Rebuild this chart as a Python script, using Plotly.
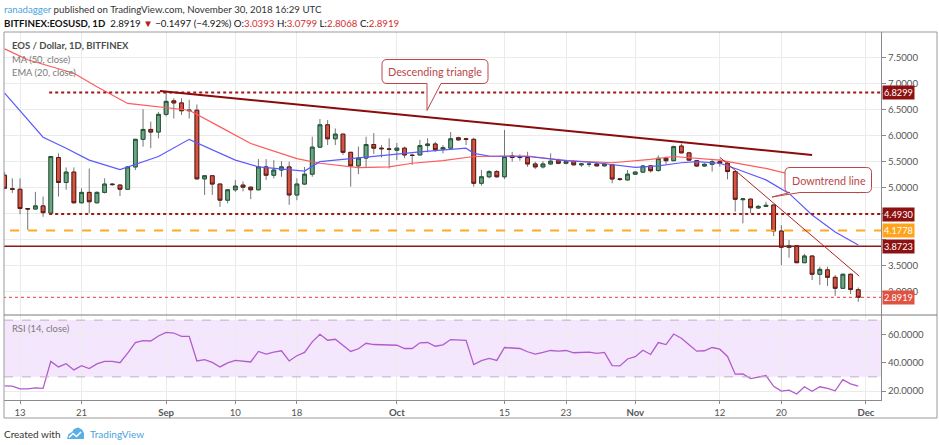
import pandas as pd
import plotly.graph_objects as go

# daily candles, 2018-08-11 .. 2018-11-30
dates = pd.date_range("2018-08-11", "2018-11-30", freq="D")

opens = [
    5.24, 4.98, 4.97, 4.60, 4.59, 4.65, 4.51, 5.58, 5.10, 5.30, 4.71, 4.91, 4.71, 4.91, 5.07, 5.05, 4.97, 5.40, 5.93, 6.12, 6.07,
    6.41, 6.67, 6.63, 6.48, 6.49, 5.17, 5.23, 5.07, 4.76, 4.96, 5.05, 5.01, 4.96, 5.40, 5.24, 5.34, 5.40, 4.86, 5.07, 5.26,
    5.78, 6.21, 5.94, 6.03, 5.68, 5.42, 5.57, 5.83, 5.76, 5.745,
    5.72, 5.76, 5.625, 5.63, 5.81, 5.84, 5.74, 5.76, 5.96, 5.94, 5.93, 5.085, 5.21, 5.31, 5.21, 5.61, 5.60, 5.58, 5.456, 5.40,
    5.456, 5.52, 5.47, 5.50, 5.44, 5.45, 5.456, 5.42, 5.44, 5.17, 5.15,
    5.26, 5.30, 5.42, 5.33, 5.565, 5.52, 5.80, 5.67, 5.52, 5.417, 5.45, 5.50, 5.47, 5.31, 4.77, 4.78, 4.61, 4.64, 4.667, 4.167,
    3.85, 3.885, 3.558, 3.686, 3.335, 3.42, 3.277, 3.065, 3.335, 3.0393,
]
highs = [
    5.30, 5.18, 5.18, 4.61, 4.92, 4.83, 5.61, 5.66, 5.39, 5.39, 4.99, 5.37, 4.93, 5.18, 5.08, 5.07, 5.41, 5.94, 6.51, 6.27, 6.46,
    6.85, 6.72, 6.72, 6.69, 6.60, 5.24, 5.24, 5.08, 4.97, 5.15, 5.12, 5.02, 5.55, 5.55, 5.53, 5.51, 5.50, 5.18, 5.40, 5.98,
    6.32, 6.30, 6.14, 6.03, 5.69, 5.79, 5.98, 6.05, 5.82, 5.95,
    5.86, 5.79, 5.65, 5.92, 5.95, 5.88, 5.82, 6.07, 5.98, 5.96, 5.96, 5.34, 5.34, 5.34, 6.11, 5.69, 5.64, 5.69, 5.50, 5.51,
    5.66, 5.56, 5.54, 5.53, 5.456, 5.50, 5.47, 5.47, 5.456, 5.18, 5.34,
    5.32, 5.44, 5.43, 5.62, 5.60, 5.81, 5.85, 5.69, 5.53, 5.47, 5.546, 5.55, 5.50, 5.31, 4.79, 4.79, 4.67, 4.73, 4.67, 4.28,
    3.995, 3.89, 3.73, 3.70, 3.48, 3.48, 3.32, 3.35, 3.35, 3.0799,
]
lows = [
    4.97, 4.90, 4.49, 4.19, 4.58, 4.44, 4.50, 4.83, 4.96, 4.70, 4.70, 4.51, 4.70, 4.89, 5.04, 4.84, 4.96, 5.34, 5.79, 5.76, 5.95,
    6.37, 6.33, 6.40, 6.33, 5.17, 4.86, 4.86, 4.63, 4.70, 4.92, 4.93, 4.78, 4.95, 5.15, 5.18, 5.21, 4.67, 4.76, 5.05, 5.21,
    5.77, 5.82, 5.82, 5.63, 5.02, 5.26, 5.39, 5.65, 5.58, 5.37,
    5.53, 5.57, 5.44, 5.63, 5.68, 5.69, 5.66, 5.76, 5.90, 5.82, 5.02, 5.04, 5.18, 5.19, 5.165, 5.50, 5.52, 5.40, 5.36, 5.37,
    5.44, 5.45, 5.45, 5.43, 5.40, 5.40, 5.41, 5.41, 5.085, 5.13, 5.14,
    5.25, 5.29, 5.29, 5.31, 5.456, 5.52, 5.66, 5.52, 5.405, 5.40, 5.31, 5.405, 5.16, 4.54, 4.315, 4.51, 4.59, 4.63, 4.07, 3.51,
    3.654, 3.55, 3.55, 3.225, 3.13, 3.11, 2.92, 3.06, 2.955, 2.8068,
]
closes = [
    4.99, 4.97, 4.60, 4.59, 4.65, 4.52, 5.60, 5.10, 5.30, 4.71, 4.91, 4.73, 4.91, 5.07, 5.06, 4.97, 5.40, 5.93, 6.12, 6.07, 6.41,
    6.66, 6.63, 6.48, 6.49, 5.17, 5.23, 5.07, 4.76, 4.96, 5.03, 5.01, 4.96, 5.40, 5.24, 5.34, 5.40, 4.86, 5.07, 5.26, 5.78,
    6.21, 5.94, 6.03, 5.68, 5.42, 5.57, 5.83, 5.76, 5.75, 5.74,
    5.76, 5.63, 5.62, 5.81, 5.84, 5.73, 5.77, 5.94, 5.92, 5.93, 5.085, 5.21, 5.31, 5.21, 5.60, 5.58, 5.58, 5.456, 5.40, 5.456,
    5.51, 5.47, 5.50, 5.44, 5.456, 5.452, 5.42, 5.45, 5.167, 5.16, 5.26,
    5.30, 5.417, 5.327, 5.565, 5.52, 5.79, 5.67, 5.53, 5.417, 5.45, 5.50, 5.47, 5.31, 4.777, 4.785, 4.615, 4.64, 4.66, 4.167, 3.854,
    3.885, 3.558, 3.686, 3.335, 3.43, 3.277, 3.065, 3.335, 3.0416, 2.8919,
]

# MA (50) and EMA (20)
ma_dates = ["2018-08-11", "2018-08-14", "2018-08-20", "2018-08-23", "2018-08-27", "2018-09-01", "2018-09-04",
            "2018-09-08", "2018-09-12", "2018-09-18", "2018-09-21", "2018-09-26", "2018-09-30", "2018-10-03",
            "2018-10-07", "2018-10-11", "2018-10-18", "2018-10-23", "2018-10-29", "2018-11-03", "2018-11-06",
            "2018-11-12", "2018-11-18", "2018-11-25", "2018-11-30"]
ma_vals = [7.67, 7.46, 7.20, 6.94, 6.62, 6.53, 6.49, 6.17, 5.85, 5.56, 5.47, 5.385, 5.40, 5.47,
           5.52, 5.60, 5.61, 5.52, 5.48, 5.545, 5.60, 5.53, 5.37, 5.12, 4.90]

ema_dates = ["2018-08-11", "2018-08-16", "2018-08-19", "2018-08-22", "2018-08-26", "2018-08-27", "2018-08-31",
             "2018-09-04", "2018-09-08", "2018-09-10", "2018-09-13", "2018-09-19", "2018-09-21", "2018-09-26",
             "2018-09-30", "2018-10-04", "2018-10-10", "2018-10-11", "2018-10-13", "2018-10-18", "2018-10-23",
             "2018-10-27", "2018-11-01", "2018-11-04", "2018-11-07", "2018-11-09", "2018-11-12", "2018-11-14",
             "2018-11-18", "2018-11-21", "2018-11-24", "2018-11-27", "2018-11-30"]
ema_vals = [6.82, 5.97, 5.76, 5.53, 5.35, 5.40, 5.60, 5.93, 5.66, 5.53, 5.40, 5.32, 5.50, 5.58,
            5.63, 5.69, 5.76, 5.66, 5.61, 5.60, 5.52, 5.48, 5.39, 5.42, 5.48, 5.50, 5.47, 5.37,
            5.15, 4.89, 4.475, 4.15, 3.90]

rsi_vals = [
    23.7, 23.5, 21.6, 21.6, 22.3, 21.9, 40.9, 37.0, 39.3, 34.9, 37.9, 35.8, 39.1, 40.9, 40.9, 40.0, 46.7, 54.2, 55.6, 55.3, 58.8,
    61.4, 60.9, 58.6, 58.6, 41.2, 42.1, 40.2, 37.0, 39.8, 41.6, 41.2, 40.5, 47.9, 46.0, 47.4, 48.4, 41.2, 44.9, 47.2, 54.7,
    60.0, 55.8, 56.5, 52.1, 47.9, 49.8, 53.7, 52.8, 52.8, 52.6,
    52.3, 50.0, 50.0, 54.0, 54.2, 51.6, 52.6, 56.3, 56.0, 55.8, 38.6, 41.4, 43.0, 41.6, 50.7, 50.2, 50.0, 47.7, 46.0, 47.2,
    48.6, 48.1, 48.6, 47.0, 47.0, 47.4, 46.5, 47.2, 37.9, 37.7, 42.6,
    44.2, 48.8, 45.8, 54.2, 52.8, 60.2, 57.2, 52.6, 48.1, 48.4, 50.7, 49.5, 44.4, 31.9, 32.1, 28.8, 30.0, 30.9, 23.3, 20.0,
    20.7, 17.9, 23.0, 19.8, 23.0, 21.9, 20.2, 28.1, 25.1, 23.5,
]

# horizontal levels: (price, start date, colour, dash, width)
levels = [
    (6.8299, "2018-08-16 19:00", "#A31515", "dot", 2),
    (4.4930, "2018-08-16 19:00", "#A31515", "dot", 2),
    (4.1778, "2018-08-11 17:00", "#FFA726", "dash", 2),
    (3.8723, "2018-08-10 00:00", "#8E1B1B", "solid", 1.5),
    (2.8919, "2018-08-10 00:00", "#E53935", "dot", 1),
]
level_labels = [(6.8299, "#8E1111"), (4.4930, "#8E1111"), (4.1778, "#FFA31A"), (3.8723, "#8E1111"), (2.8919, "#E0513F")]

x_tickvals = ["2018-08-13", "2018-08-21", "2018-09-01", "2018-09-10", "2018-09-18", "2018-10-01",
              "2018-10-15", "2018-10-23", "2018-11-01", "2018-11-12", "2018-11-20", "2018-12-01"]
x_ticktext = ["13", "21", "<b>Sep</b>", "10", "18", "<b>Oct</b>", "15", "23", "<b>Nov</b>", "12", "20", "<b>Dec</b>"]
price_ticks = [3.0, 3.5, 4.0, 4.5, 5.0, 5.5, 6.0, 6.5, 7.0, 7.5]
hidden_ticks = [4.0, 4.5]   # covered by the level labels on the reference
rsi_ticks = [20, 40, 60]

W, H = 939, 445
L, R, T, B = 4, 58, 32, 45
PW, PH = W - L - R, H - T - B


def px(x):
    return (x - L) / PW


def py(y):
    return (H - B - y) / PH


FONT = "Lato, 'Open Sans', sans-serif"
split = py(315)

fig = go.Figure()

# wicks (grey), then bodies on top
fig.add_trace(go.Candlestick(
    x=dates, open=opens, high=highs, low=lows, close=closes,
    increasing=dict(line=dict(color="#76767a", width=1), fillcolor="rgba(0,0,0,0)"),
    decreasing=dict(line=dict(color="#76767a", width=1), fillcolor="rgba(0,0,0,0)"),
    whiskerwidth=0, hoverinfo="skip", showlegend=False,
))
fig.add_trace(go.Candlestick(
    x=dates, open=opens, close=closes,
    high=[max(o, c) for o, c in zip(opens, closes)],
    low=[min(o, c) for o, c in zip(opens, closes)],
    increasing=dict(line=dict(color="#225437", width=1), fillcolor="#6BA583"),
    decreasing=dict(line=dict(color="#5B1A13", width=1), fillcolor="#D75442"),
    whiskerwidth=0, hoverinfo="skip", showlegend=False,
))
fig.add_trace(go.Scatter(x=ma_dates, y=ma_vals, mode="lines",
                         line=dict(color="#FF5A5A", width=1.2), hoverinfo="skip", showlegend=False))
fig.add_trace(go.Scatter(x=ema_dates, y=ema_vals, mode="lines",
                         line=dict(color="#5A5AFF", width=1.2), hoverinfo="skip", showlegend=False))
fig.add_trace(go.Scatter(x=dates, y=rsi_vals, mode="lines", xaxis="x2", yaxis="y2",
                         line=dict(color="#B25CCC", width=1.3), hoverinfo="skip", showlegend=False))

shapes = []
# RSI band
shapes.append(dict(type="rect", xref="x2 domain", yref="y2", x0=0, x1=1, y0=30, y1=70,
                   fillcolor="#F4E6FD", line=dict(width=0), layer="below"))
for v in (30, 70):
    shapes.append(dict(type="line", xref="x2 domain", yref="y2", x0=0, x1=1, y0=v, y1=v,
                       line=dict(color="#BDB0C6", width=1, dash="dash")))
for price, start, color, dash, width in levels:
    shapes.append(dict(type="line", xref="x", yref="y", x0=start, x1="2018-12-20", y0=price, y1=price,
                       line=dict(color=color, width=width, dash=dash)))
# trend lines
shapes.append(dict(type="line", xref="x", yref="y", x0="2018-08-31 05:00", y0=6.86, x1="2018-11-24", y1=5.63,
                   line=dict(color="#8B0A0A", width=2)))
shapes.append(dict(type="line", xref="x", yref="y", x0="2018-11-12", y0=5.585, x1="2018-11-30 03:00", y1=3.30,
                   line=dict(color="#B22222", width=1)))


def callout(x0, y0, x1, y1, tail, r=5):
    (ta, tb, tip) = tail
    pts = [f"M{px(x0 + r)},{py(y0)}", f"L{px(x1 - r)},{py(y0)}", f"Q{px(x1)},{py(y0)} {px(x1)},{py(y0 + r)}",
           f"L{px(x1)},{py(y1 - r)}", f"Q{px(x1)},{py(y1)} {px(x1 - r)},{py(y1)}",
           f"L{px(ta)},{py(y1)}", f"L{px(tip[0])},{py(tip[1])}", f"L{px(tb)},{py(y1)}",
           f"L{px(x0 + r)},{py(y1)}", f"Q{px(x0)},{py(y1)} {px(x0)},{py(y1 - r)}",
           f"L{px(x0)},{py(y0 + r)}", f"Q{px(x0)},{py(y0)} {px(x0 + r)},{py(y0)}", "Z"]
    return dict(type="path", xref="paper", yref="paper", path=" ".join(pts),
                fillcolor="white", line=dict(color="#B9474A", width=1))


shapes.append(callout(382, 59.5, 488, 83.5, (441, 427, (427, 110.5))))
shapes.append(callout(785, 167.5, 871.5, 192.5, (800, 790, (772, 197))))

# frame, pane divider
shapes.append(dict(type="rect", xref="paper", yref="paper", x0=0, x1=px(937), y0=py(418), y1=1,
                   line=dict(color="#9a9a9a", width=1)))
shapes.append(dict(type="line", xref="paper", yref="paper", x0=0, x1=px(937), y0=split, y1=split,
                   line=dict(color="#7a7a7a", width=1)))
# TradingView cloud logo
logo = [(67, 439), (68.5, 434), (72, 432), (74, 429), (78, 427.5), (82, 429.5), (84, 433), (84, 439)]
shapes.append(dict(type="path", xref="paper", yref="paper",
                   path="M" + " L".join(f"{px(a)},{py(b)}" for a, b in logo) + " Z",
                   fillcolor="#5AB0E6", line=dict(width=0)))
zig = [(69, 437.5), (73, 433.5), (76.5, 436.5), (81, 432)]
shapes.append(dict(type="path", xref="paper", yref="paper",
                   path="M" + " L".join(f"{px(a)},{py(b)}" for a, b in zig),
                   line=dict(color="white", width=1.6)))

ann = []


def text(x, y, s, size=11, color="#333333", anchor="left"):
    ann.append(dict(xref="paper", yref="paper", x=px(x), y=py(y), text=s, showarrow=False,
                    xanchor=anchor, yanchor="middle", font=dict(size=size, color=color, family=FONT)))


red = "#D32F2F"
text(2, 8.5, '<span style="color:#4BA3DD">ranadagger</span> published on TradingView.com, November 30, 2018 16:29 UTC',
     size=9.7, color="#333333")
text(2, 23, f'<b>BITFINEX:EOSUSD, 1D</b>  2.8919 <span style="color:#B71C1C">▼</span> −0.1497 (−4.92%) '
     f'O:<span style="color:{red}">3.0393</span> H:<span style="color:{red}">3.0799</span> '
     f'L:<span style="color:{red}">2.8068</span> C:<span style="color:{red}">2.8919</span>',
     size=9.7, color="#111111")
text(10, 45, "<b>EOS / Dollar, 1D, BITFINEX</b>", size=9.5, color="#4d4d4d")
text(10, 59, "MA (50, close)", size=9.4, color="#7a7a7a")
text(10, 72, "EMA (20, close)", size=9.4, color="#7a7a7a")
text(10, 328, "RSI (14, close)", size=9.4, color="#7a7a7a")
text(435, 71.5, "Descending triangle", size=10.8, color="#B9474A", anchor="center")
text(828.5, 180, "Downtrend line", size=10.8, color="#B9474A", anchor="center")
text(2, 433.5, "Created with", size=10, color="#333333")
text(88, 433.5, "TradingView", size=10, color="#4BA3DD")

for price, color in level_labels:
    ann.append(dict(xref="paper", yref="y", x=px(882), y=price, text=f"{price:.4f}", showarrow=False,
                    xanchor="left", yanchor="middle", bgcolor=color, borderpad=1,
                    font=dict(size=9.2, color="white", family=FONT)))

axis_font = dict(size=9.6, color="#555555", family=FONT)
fig.update_layout(
    width=W, height=H, margin=dict(l=L, r=R, t=T, b=B),
    paper_bgcolor="white", plot_bgcolor="white",
    shapes=shapes, annotations=ann, showlegend=False, boxgap=0.3,
    xaxis=dict(domain=[0, 1], anchor="y", type="date", range=["2018-08-10 22:00", "2018-12-02 23:00"],
               tickvals=x_tickvals, showticklabels=False, showgrid=True, gridcolor="#ebebeb",
               zeroline=False, rangeslider=dict(visible=False), fixedrange=True),
    xaxis2=dict(domain=[0, 1], anchor="y2", type="date", matches="x", tickvals=x_tickvals, ticktext=x_ticktext,
                showgrid=True, gridcolor="#ebebeb", showline=True, linecolor="#8a8a8a",
                ticks="outside", ticklen=3, tickcolor="#8a8a8a", tickfont=axis_font, zeroline=False),
    yaxis=dict(domain=[split, 1], anchor="x", side="right", range=[2.552, 7.994],
               tickvals=price_ticks,
               ticktext=["" if v in hidden_ticks else f"{v:.4f}" for v in price_ticks],
               showgrid=True, gridcolor="#ebebeb", showline=True, linecolor="#8a8a8a",
               ticks="outside", ticklen=4, tickcolor="#8a8a8a", tickfont=axis_font, zeroline=False),
    yaxis2=dict(domain=[0, split], anchor="x2", side="right", range=[13.7, 73.6],
                tickvals=rsi_ticks, ticktext=[f"{v:.4f}" for v in rsi_ticks],
                showgrid=True, gridcolor="#ebebeb", showline=True, linecolor="#8a8a8a",
                ticks="outside", ticklen=4, tickcolor="#8a8a8a", tickfont=axis_font, zeroline=False),
)

# the page gets the browser's default body margin otherwise
fig.write_html("out.html", config={"displayModeBar": False},
               post_script="document.body.style.margin='0';")
